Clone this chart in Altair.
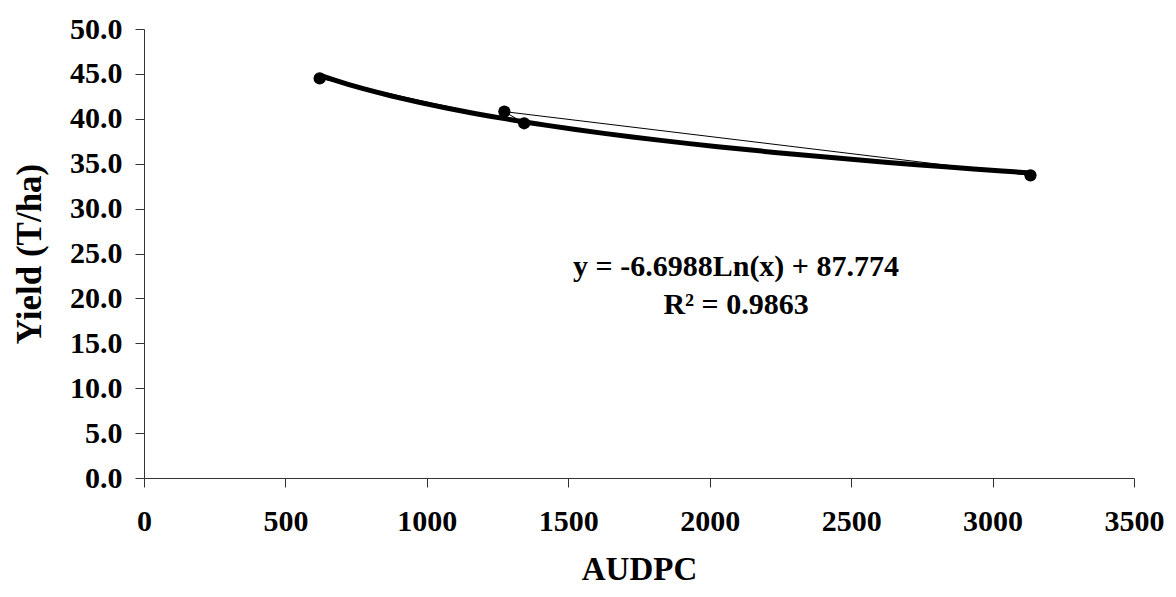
import altair as alt
import pandas as pd

# Observed points (in worksheet order)
audpc = [621, 1344, 1274, 3134]
yield_tha = [44.5, 39.5, 40.8, 33.7]
order = [1, 2, 3, 4]

x_ticks = [0, 500, 1000, 1500, 2000, 2500, 3000, 3500]
y_ticks = [0, 5, 10, 15, 20, 25, 30, 35, 40, 45, 50]

eq_text = ["y = -6.6988Ln(x) + 87.774", "R² = 0.9863"]
eq_x = [2093, 2093]
eq_y = [23.5, 19.3]

df = pd.DataFrame({"x": audpc, "y": yield_tha, "o": order})
ann = pd.DataFrame({"t": eq_text, "x": eq_x, "y": eq_y})

FONT = "Liberation Serif"

xs = alt.Scale(domain=[0, 3500], nice=False)
ys = alt.Scale(domain=[0, 50], nice=False)

xaxis = alt.Axis(values=x_ticks, format="d", grid=False, title="AUDPC",
                 labelFont=FONT, labelFontSize=30, labelFontWeight="bold",
                 labelColor="black", labelPadding=19,
                 titleFont=FONT, titleFontSize=33, titleFontWeight="bold",
                 titleColor="black", titlePadding=17,
                 domainColor="#333", tickColor="#333", tickSize=9,
                 labelFlush=False)
yaxis = alt.Axis(values=y_ticks, format=".1f", grid=False, title="Yield (T/ha)",
                 labelFont=FONT, labelFontSize=30, labelFontWeight="bold",
                 labelColor="black", labelPadding=13,
                 titleFont=FONT, titleFontSize=35, titleFontWeight="bold",
                 titleColor="black", titlePadding=22,
                 domainColor="#333", tickColor="#333", tickSize=9)

base = alt.Chart(df)

thin = base.mark_line(color="black", strokeWidth=1).encode(
    x=alt.X("x:Q", scale=xs, axis=xaxis),
    y=alt.Y("y:Q", scale=ys, axis=yaxis),
    order="o:Q",
)

trend = base.transform_regression("x", "y", method="log").mark_line(
    color="black", strokeWidth=5
).encode(x=alt.X("x:Q", scale=xs), y=alt.Y("y:Q", scale=ys))

pts = base.mark_circle(color="black", size=150, opacity=1).encode(
    x=alt.X("x:Q", scale=xs), y=alt.Y("y:Q", scale=ys)
)

text = alt.Chart(ann).mark_text(font=FONT, fontSize=30, fontWeight="bold",
                                color="black", align="center", baseline="middle").encode(
    x=alt.X("x:Q", scale=xs), y=alt.Y("y:Q", scale=ys), text="t:N"
)

chart = alt.layer(thin, trend, pts, text).properties(
    width=990, height=449,
    background="white",
    autosize=alt.AutoSizeParams(type="none"),
    padding={"left": 136, "top": 21, "right": 34, "bottom": 111},
).configure_view(stroke=None, strokeWidth=0)

chart.save("out.html", embed_options={"renderer": "svg", "actions": False})
